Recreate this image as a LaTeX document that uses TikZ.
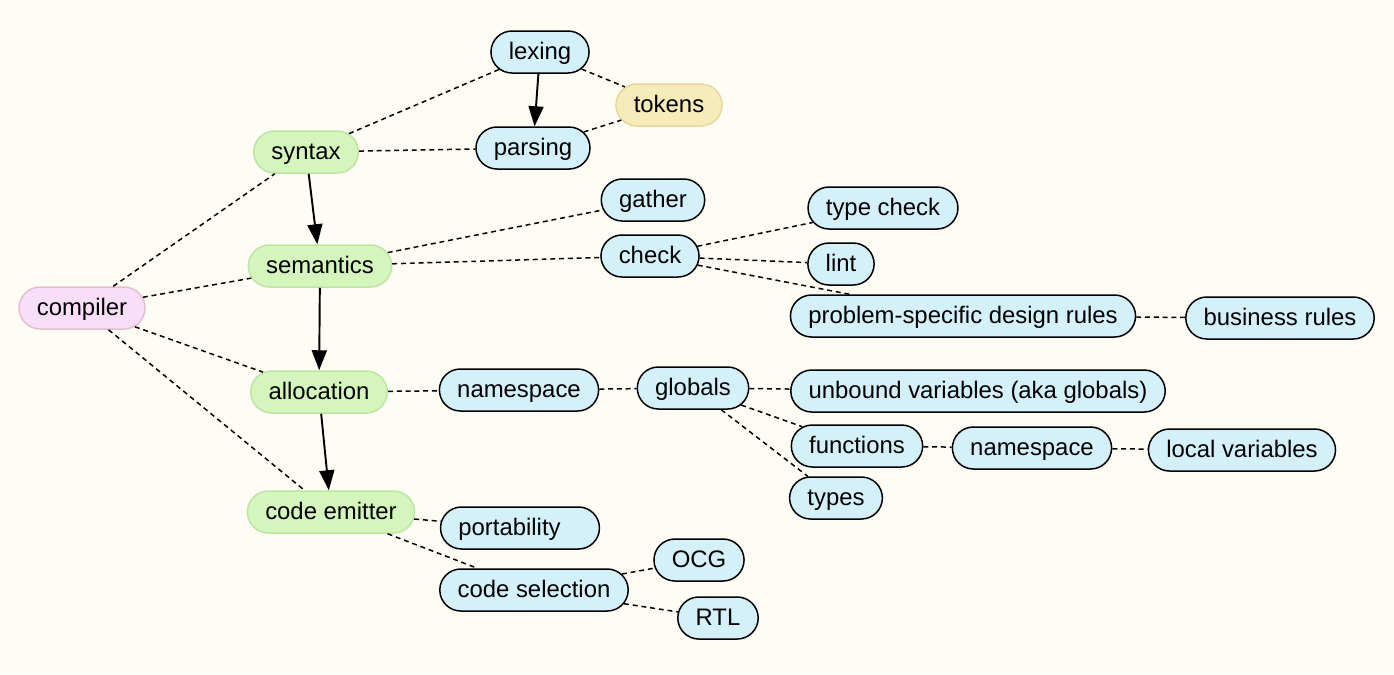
\documentclass[tikz,border=0pt]{standalone}
\usepackage{fontspec}
\setmainfont{Liberation Sans}
\usepackage{xcolor}
\usetikzlibrary{arrows.meta,shapes.misc}
\definecolor{paper}{HTML}{FFFCF5}
\definecolor{leaffill}{HTML}{D3F0FB}
\definecolor{passfill}{HTML}{D4F6BD}
\definecolor{passedge}{HTML}{BDE5A4}
\definecolor{rootfill}{HTML}{F8DEF9}
\definecolor{rootedge}{HTML}{E3C0CC}
\definecolor{datafill}{HTML}{F6EBB9}
\definecolor{dataedge}{HTML}{E6D89E}
\tikzset{%
	leaf/.style   = {rounded rectangle, draw=black, fill=leaffill, line width=0.85pt,
	                 minimum height=0.84cm, inner xsep=0.3cm, text height=10pt, text depth=2pt,
	                 font=\fontsize{13.6}{16}\selectfont}, % topic
	pass/.style   = {leaf, draw=passedge, fill=passfill}, % compiler pass
	root/.style   = {leaf, draw=rootedge, fill=rootfill}, % root
	datum/.style  = {leaf, draw=dataedge, fill=datafill}, % data
	link/.style   = {dash pattern=on 2.8pt off 2.2pt, line width=0.85pt}, % association
	flow/.style   = {-{Triangle[length=0.4cm, width=0.3cm]}, line width=1.1pt}, % order
}

\begin{document}
\begin{tikzpicture}[x=0.02cm, y=-0.02cm]
		\fill[paper] (0,0) rectangle (1394,674);
		\useasboundingbox (0,0) rectangle (1394,674);
		% passes
		\node[root] (compiler) at (82,308) {compiler};
		\node[pass] (syntax) at (306,152) {syntax};
		\node[pass] (semantics) at (320,266) {semantics};
		\node[pass] (allocation) at (319,392) {allocation};
		\node[pass] (emitter) at (331,512) {code emitter};
		% syntax
		\node[leaf] (lexing) at (540,52) {lexing};
		\node[datum] (tokens) at (669,105) {tokens};
		\node[leaf] (parsing) at (533,148) {parsing};
		% semantics
		\node[leaf] (gather) at (653,200) {gather};
		\node[leaf] (check) at (650,256) {check};
		\node[leaf] (typecheck) at (883,208) {type check};
		\node[leaf] (lint) at (841,264) {lint};
		\node[leaf] (design) at (963,316) {problem-specific design rules};
		\node[leaf] (business) at (1280,318) {business rules};
		% allocation
		\node[leaf] (namespace) at (519,390) {namespace};
		\node[leaf] (globals) at (693,388) {globals};
		\node[leaf] (unbound) at (978,391) {unbound variables (aka globals)};
		\node[leaf] (functions) at (857,446) {functions};
		\node[leaf] (localns) at (1032,448) {namespace};
		\node[leaf] (localvars) at (1242,450) {local variables};
		\node[leaf] (types) at (836,498) {types};
		% code emitter
		\node[leaf] (portability) at (520,528) {portability\rule{0.42cm}{0pt}};
		\node[leaf] (codesel) at (534,590) {code selection};
		\node[leaf] (ocg) at (699,560) {OCG};
		\node[leaf] (rtl) at (718,618) {RTL};
		% order of passes
		\draw[flow] (syntax) -- (semantics);
		\draw[flow] (semantics) -- (allocation);
		\draw[flow] (allocation) -- (emitter);
		\draw[flow] (lexing) -- (parsing);
		% associations
		\draw[link] (compiler) -- (syntax);
		\draw[link] (compiler) -- (semantics);
		\draw[link] (compiler) -- (allocation);
		\draw[link] (compiler) -- (emitter);
		\draw[link] (syntax) -- (lexing);
		\draw[link] (syntax) -- (parsing);
		\draw[link] (lexing) -- (tokens);
		\draw[link] (parsing) -- (tokens);
		\draw[link] (semantics) -- (gather);
		\draw[link] (semantics) -- (check);
		\draw[link] (check) -- (typecheck);
		\draw[link] (check) -- (lint);
		\draw[link] (check) -- (design);
		\draw[link] (design) -- (business);
		\draw[link] (allocation) -- (namespace);
		\draw[link] (namespace) -- (globals);
		\draw[link] (globals) -- (unbound);
		\draw[link] (globals) -- (functions);
		\draw[link] (globals) -- (types);
		\draw[link] (functions) -- (localns);
		\draw[link] (localns) -- (localvars);
		\draw[link] (emitter) -- (portability);
		\draw[link] (emitter) -- (codesel);
		\draw[link] (codesel) -- (ocg);
		\draw[link] (codesel) -- (rtl);
\end{tikzpicture}
\end{document}
